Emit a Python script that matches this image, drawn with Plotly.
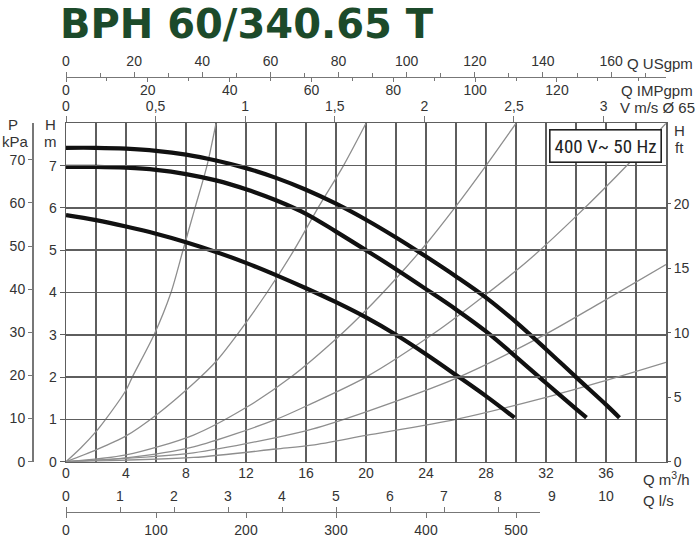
import plotly.graph_objects as go

# ---------------- data ----------------
title_text = "BPH 60/340.65 T"
box_text = "400 V~ 50 Hz"

# pump curves: Q [m3/h], H [m]
q_curve1 = [0, 2, 4, 6, 8, 10, 12, 14, 16, 18, 20, 22, 24, 26, 28, 30, 32, 34, 36, 36.9]
h_curve1 = [7.42, 7.42, 7.40, 7.35, 7.26, 7.12, 6.94, 6.71, 6.43, 6.10, 5.72, 5.30, 4.85, 4.38, 3.88, 3.30, 2.66, 2.00, 1.35, 1.04]
q_curve2 = [0, 2, 4, 6, 8, 10, 12, 14, 16, 18, 20, 22, 24, 26, 28, 30, 32, 34, 34.7]
h_curve2 = [6.97, 6.97, 6.95, 6.90, 6.80, 6.65, 6.44, 6.18, 5.86, 5.44, 5.00, 4.55, 4.08, 3.60, 3.08, 2.48, 1.86, 1.25, 1.04]
q_curve3 = [0, 2, 4, 6, 8, 10, 12, 14, 16, 18, 20, 22, 24, 26, 28, 29.9]
h_curve3 = [5.83, 5.71, 5.56, 5.39, 5.19, 4.96, 4.70, 4.41, 4.10, 3.77, 3.41, 3.00, 2.54, 2.05, 1.55, 1.04]

# system (resistance) curves
q_sysA = [0, 1, 2, 2.64, 4, 4.42, 5.87, 7.0, 7.8, 8.6, 9.4, 10.0]
h_sysA = [0, 0.33, 0.71, 1.0, 1.69, 2.0, 3.0, 4.0, 5.0, 6.0, 7.0, 8.0]
q_sysB = [0, 2, 4, 6, 8.5, 10, 11.4, 13.4, 15.2, 16.8, 18.5, 20]
h_sysB = [0, 0.28, 0.61, 1.1, 1.85, 2.37, 3.0, 4.0, 5.0, 6.0, 7.0, 8.0]
q_sysC = [0, 4, 8.5, 12, 15, 18, 20, 22, 24, 26, 28, 30]
h_sysC = [0, 0.16, 0.63, 1.28, 2.0, 2.9, 3.58, 4.33, 5.14, 6.04, 7.0, 8.0]
q_sysD = [0, 4, 8.5, 14, 16.4, 20, 24.8, 27.8, 30.7, 34, 37.6, 40]
h_sysD = [0, 0.09, 0.35, 1.0, 1.38, 2.0, 3.1, 3.9, 4.72, 5.8, 7.08, 8.0]
q_sysE = [0, 8.5, 14, 16.4, 20, 26, 31.8, 35.6, 40]
h_sysE = [0, 0.21, 0.57, 0.77, 1.18, 1.97, 2.98, 3.75, 4.66]
q_sysF = [0, 8.5, 14, 16.4, 20, 26, 32, 35.6, 40]
h_sysF = [0, 0.1, 0.3, 0.39, 0.62, 1.0, 1.52, 1.88, 2.35]

# tick values / labels
q_m3h_ticks = [0, 2, 4, 6, 8, 10, 12, 14, 16, 18, 20, 22, 24, 26, 28, 30, 32, 34, 36, 38]
q_m3h_labels = ["0", " ", "4", " ", "8", " ", "12", " ", "16", " ", "20", " ", "24", " ", "28", " ", "32", " ", "36", " "]
h_m_ticks = [0, 1, 2, 3, 4, 5, 6, 7]
p_kpa_ticks = [0, 10, 20, 30, 40, 50, 60, 70]
h_ft_ticks = [0, 5, 10, 15, 20]
usgpm_ticks = [0, 20, 40, 60, 80, 100, 120, 140, 160]
impgpm_ticks = [0, 20, 40, 60, 80, 100, 120]
v_ticks = [0, 0.5, 1, 1.5, 2, 2.5, 3]
v_labels = ["0", "0,5", "1", "1,5", "2", "2,5", "3"]
ls_ticks = [0, 1, 2, 3, 4, 5, 6, 7, 8]
ls_extra_ticks = [9, 10]
lmin_ticks = [0, 100, 200, 300, 400, 500]

# unit conversions
Q_MAX = 40.0          # m3/h
H_MAX = 8.0           # m
Q_LINE_END = 31.6     # m3/h where the l/s - l/min scale line ends
KPA_PER_M = 9.80665
FT_PER_M = 3.28084
USGPM_PER_M3H = 4.40287
IMPGPM_PER_M3H = 3.66615
M3H_PER_MS = 3.14159265 * 0.065 ** 2 / 4 * 3600
M3H_PER_LS = 3.6
M3H_PER_LMIN = 0.06

# ---------------- layout geometry ----------------
W, HT = 700, 539
def fx(px):
    return px / W
def fy(py):
    return 1 - py / HT

X0, X1 = 66, 666
Y0, Y1 = 461.7, 123.3
xdom = [fx(X0), fx(X1)]
ydom = [fy(Y0), fy(Y1)]

GRID = "#5e5e5e"
AX = "#777777"
TXT = "#333333"
FONT = "Liberation Sans, Arial, sans-serif"
tickfont = dict(family=FONT, size=14, color=TXT)

fig = go.Figure()

sys_curves = [(q_sysA, h_sysA), (q_sysB, h_sysB), (q_sysC, h_sysC),
              (q_sysD, h_sysD), (q_sysE, h_sysE), (q_sysF, h_sysF)]
for q, h in sys_curves:
    fig.add_trace(go.Scatter(x=q, y=h, mode="lines", line=dict(color="#8e8e8e", width=1.3, shape="spline", smoothing=0.8),
                             hoverinfo="skip", showlegend=False))

for q, h in [(q_curve1, h_curve1), (q_curve2, h_curve2), (q_curve3, h_curve3)]:
    fig.add_trace(go.Scatter(x=q, y=h, mode="lines", line=dict(color="#111111", width=4.2, shape="spline", smoothing=1.0),
                             showlegend=False))

# dummy traces to activate secondary axes
def dummy(xa, ya):
    fig.add_trace(go.Scatter(x=[0], y=[0], xaxis=xa, yaxis=ya, mode="markers",
                             marker=dict(opacity=0, size=1), hoverinfo="skip", showlegend=False))

for xa, ya in [("x", "y2"), ("x", "y3"), ("x2", "y"), ("x3", "y"), ("x4", "y"),
               ("x5", "y"), ("x6", "y"), ("x7", "y")]:
    dummy(xa, ya)

top_line_y = fy(77)
bot_line_y = fy(512)
short_dom = [fx(X0), fx(X0 + (X1 - X0) * Q_LINE_END / Q_MAX)]

common = dict(automargin=False, fixedrange=True, zeroline=False, showgrid=False, tickfont=tickfont)

fig.update_layout(
    template="none",
    width=W, height=HT, autosize=False,
    margin=dict(l=0, r=0, t=0, b=0, pad=0),
    paper_bgcolor="white", plot_bgcolor="rgba(0,0,0,0)",
    showlegend=False,
    xaxis=dict(common, domain=xdom, range=[0, Q_MAX], tickvals=q_m3h_ticks, ticktext=q_m3h_labels,
               showgrid=True, gridcolor=GRID, gridwidth=1.5, showline=True, linecolor=GRID, linewidth=1.5,
               mirror=True, ticks="", ticklabelstandoff=-2),
    yaxis=dict(common, domain=ydom, range=[0, H_MAX], tickvals=h_m_ticks,
               showgrid=True, gridcolor=GRID, gridwidth=1.5, showline=True, linecolor=GRID, linewidth=1.5,
               mirror=True, ticks="outside", ticklen=5, tickcolor=GRID),
    yaxis2=dict(common, overlaying="y", anchor="free", position=fx(32), side="left",
                range=[0, H_MAX * KPA_PER_M], tickvals=p_kpa_ticks,
                showline=True, linecolor=AX, linewidth=1.5, ticks="outside", ticklen=4, tickcolor=AX),
    yaxis3=dict(common, overlaying="y", anchor="x", side="right", range=[0, H_MAX * FT_PER_M], tickvals=h_ft_ticks,
                showline=False, ticks="outside", ticklen=4, tickcolor=GRID),
    xaxis2=dict(common, overlaying="x", anchor="free", position=top_line_y, side="top",
                range=[0, Q_MAX * USGPM_PER_M3H], tickvals=usgpm_ticks,
                showline=True, linecolor=AX, linewidth=1.2, ticks="outside", ticklen=5, tickcolor=AX,
                minor=dict(dtick=10, ticks="outside", ticklen=4, tickcolor=AX)),
    xaxis3=dict(common, overlaying="x", anchor="free", position=top_line_y, side="bottom",
                range=[0, Q_MAX * IMPGPM_PER_M3H], tickvals=impgpm_ticks,
                showline=False, ticks="outside", ticklen=4, tickcolor=AX, ticklabelstandoff=-4,
                minor=dict(dtick=10, ticks="outside", ticklen=3, tickcolor=AX)),
    xaxis4=dict(common, overlaying="x", anchor="y", side="top", range=[0, Q_MAX / M3H_PER_MS],
                tickvals=v_ticks, ticktext=v_labels, showline=False,
                ticks="outside", ticklen=6, tickcolor=AX),
    xaxis5=dict(common, domain=short_dom, anchor="free", position=bot_line_y, side="top",
                range=[0, Q_LINE_END / M3H_PER_LS], tickvals=ls_ticks,
                showline=True, linecolor=AX, linewidth=1.2, ticks="outside", ticklen=5, tickcolor=AX),
    xaxis6=dict(common, overlaying="x", anchor="free", position=bot_line_y, side="top",
                range=[0, Q_MAX / M3H_PER_LS], tickvals=ls_extra_ticks,
                showline=False, ticks="outside", ticklen=5, tickcolor="rgba(0,0,0,0)"),
    xaxis7=dict(common, domain=short_dom, anchor="free", position=bot_line_y, side="bottom",
                range=[0, Q_LINE_END / M3H_PER_LMIN], tickvals=lmin_ticks,
                showline=False, ticks="outside", ticklen=5, tickcolor=AX),
)

lab = dict(family=FONT, size=15, color=TXT)
annotations = [
    dict(text=title_text, x=fx(58), y=fy(24), xanchor="left", yanchor="middle",
         font=dict(family="DejaVu Sans, Arial Black, sans-serif", size=40, color="#1c4a2a", weight="bold")),
    dict(text="Q USgpm", x=fx(695), y=fy(63), xanchor="right", yanchor="middle", font=lab),
    dict(text="Q IMPgpm", x=fx(695), y=fy(90), xanchor="right", yanchor="middle", font=lab),
    dict(text="V m/s Ø 65", x=fx(697), y=fy(108), xanchor="right", yanchor="middle", font=lab),
    dict(text="P", x=fx(13), y=fy(125), xanchor="center", yanchor="middle", font=lab),
    dict(text="kPa", x=fx(15), y=fy(142), xanchor="center", yanchor="middle", font=lab),
    dict(text="H", x=fx(50), y=fy(125), xanchor="center", yanchor="middle", font=lab),
    dict(text="m", x=fx(50), y=fy(142), xanchor="center", yanchor="middle", font=lab),
    dict(text="H", x=fx(679), y=fy(130), xanchor="center", yanchor="middle", font=lab),
    dict(text="ft", x=fx(679), y=fy(147), xanchor="center", yanchor="middle", font=lab),
    dict(text="Q m<sup>3</sup>/h", x=fx(641), y=fy(478), xanchor="left", yanchor="middle", font=lab),
    dict(text="Q l/s", x=fx(641), y=fy(500), xanchor="left", yanchor="middle", font=lab),
    dict(text=box_text, x=fx(605), y=fy(145.5), xanchor="center", yanchor="middle",
         font=dict(family="Liberation Sans Narrow, Roboto Condensed, Liberation Sans, sans-serif", size=19, color="#222222"),
         bordercolor="#222222", borderwidth=1.6, borderpad=4, bgcolor="white"),
]
for a in annotations:
    a.update(xref="paper", yref="paper", showarrow=False)
fig.update_layout(annotations=annotations)

fig.write_html("out.html", config={"displayModeBar": False, "staticPlot": True},
               post_script="document.body.style.margin='0';document.body.style.overflow='hidden';")
